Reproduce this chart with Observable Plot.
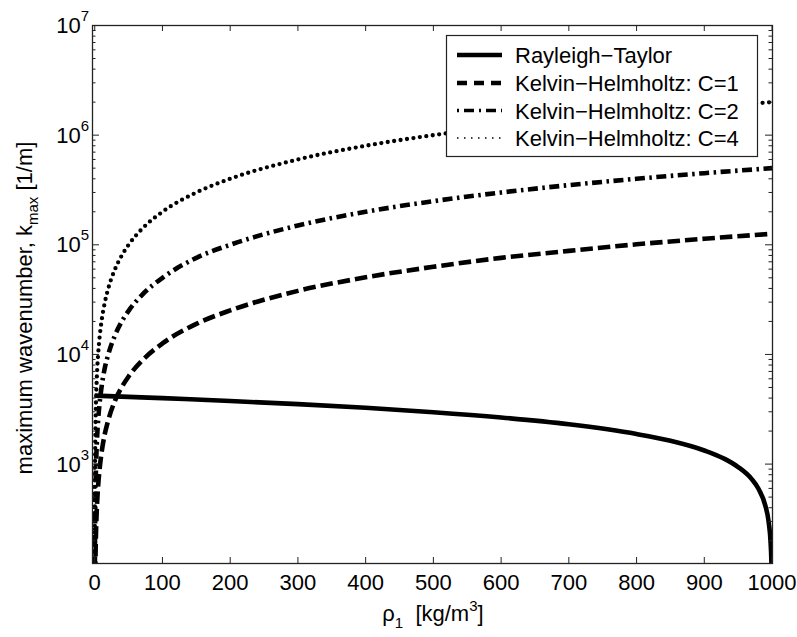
<!DOCTYPE html>
<html>
<head>
<meta charset="utf-8">
<script src="https://cdn.jsdelivr.net/npm/d3@7"></script>
<script src="https://cdn.jsdelivr.net/npm/@observablehq/plot@0.6"></script>
<style>
  body { margin: 0; background: #fff; }
  #chart svg { display: block; }
</style>
</head>
<body>
<div id="chart"></div>
<script>
// Density of the lighter fluid, rho_1 [kg/m^3], for the Kelvin–Helmholtz curves
const rhoKH = [0.06, 0.1, 0.15, 0.25, 0.4, 0.6, 1, 1.5, 2, 3, 4, 5, 7, 10, 15, 20, 30, 40, 50, 70,
               100, 150, 200, 300, 400, 500, 600, 700, 800, 900, 1000];
// Most unstable wavenumber k_max [1/m] for each Kelvin–Helmholtz constant C
const kKH1 = [7.6, 12.6, 19, 31.5, 50, 76, 126, 190, 252, 380, 505, 630, 880, 1260, 1900, 2520, 3800, 5050, 6300, 8800,
              12600, 19000, 25200, 38000, 50500, 63000, 76000, 88000, 101000, 113500, 126000];
const kKH2 = [30, 50, 76, 126, 200, 300, 500, 760, 1000, 1500, 2000, 2500, 3500, 5000, 7600, 10000, 15000, 20000, 25000, 35000,
              50000, 76000, 100000, 150000, 200000, 250000, 300000, 350000, 400000, 450000, 500000];
const kKH4 = [120, 200, 300, 500, 800, 1200, 2000, 3000, 4000, 6000, 8000, 10000, 14000, 20000, 30000, 40000, 60000, 80000, 100000, 140000,
              200000, 300000, 400000, 600000, 800000, 1000000, 1200000, 1400000, 1600000, 1800000, 2000000];

// Rayleigh–Taylor curve
const rhoRT = [0, 50, 100, 150, 200, 300, 400, 500, 600, 700, 800, 850, 900, 930, 950, 970, 980, 990, 995, 998, 999, 999.5];
const kRT   = [4210, 4100, 3995, 3880, 3765, 3520, 3260, 2975, 2660, 2305, 1880, 1630, 1330, 1115, 940, 730, 595, 420, 298, 188, 133, 94];

// Axis ticks
const xTicks = [0, 100, 200, 300, 400, 500, 600, 700, 800, 900, 1000];
const yExponents = [3, 4, 5, 6, 7];
const yMinorMantissas = [2, 3, 4, 5, 6, 7, 8, 9];
const yMinorExponents = [2, 3, 4, 5, 6];

// Legend entries
const seriesNames = ["Rayleigh\u2212Taylor", "Kelvin\u2212Helmholtz: C=1", "Kelvin\u2212Helmholtz: C=2", "Kelvin\u2212Helmholtz: C=4"];

const W = 797, H = 637;
const mL = 92, mR = 25, mT = 25, mB = 74;
const frameW = W - mL - mR, frameH = H - mT - mB;
const ink = "#222";
const font = "'Liberation Sans', Arial, Helvetica, sans-serif";
const fs = 22;

const toRows = (xs, ys) => xs.map((x, i) => ({rho: x, k: ys[i]}));
const yMajor = yExponents.map(e => Math.pow(10, e));
const yMinor = yMinorExponents.flatMap(e => yMinorMantissas.map(m => m * Math.pow(10, e)));

const styles = [
  {data: toRows(rhoRT, kRT),  width: 4.6, dash: null, cap: "butt"},
  {data: toRows(rhoKH, kKH1), width: 4.6, dash: "12.5,5", cap: "butt"},
  {data: toRows(rhoKH, kKH2), width: 4.6, dash: "10,4.5,2.5,4.5", cap: "butt"},
  {data: toRows(rhoKH, kKH4), width: 4.3, dash: "0,6.5", cap: "round"}
];

const chart = Plot.plot({
  width: W, height: H,
  marginLeft: mL, marginRight: mR, marginTop: mT, marginBottom: mB,
  style: {fontFamily: font, fontSize: fs + "px", background: "white", color: "black"},
  x: {domain: [-3.3, 1000.7], axis: null},
  y: {type: "log", domain: [124, 1e7], axis: null},
  marks: [
    // data curves, back to front
    ...styles.slice().reverse().map(s =>
      Plot.line(s.data, {x: "rho", y: "k", stroke: "black", strokeWidth: s.width,
        strokeDasharray: s.dash, strokeLinecap: s.cap, strokeLinejoin: "round",
        curve: "monotone-x", clip: true})
    ),
    // inward ticks on all four sides
    Plot.tickX(xTicks, {x: d => d, insetTop: frameH - 6, stroke: ink, strokeWidth: 1}),
    Plot.tickX(xTicks, {x: d => d, insetBottom: frameH - 6, stroke: ink, strokeWidth: 1}),
    Plot.tickY(yMajor, {y: d => d, insetRight: frameW - 7, stroke: ink, strokeWidth: 1}),
    Plot.tickY(yMajor, {y: d => d, insetLeft: frameW - 7, stroke: ink, strokeWidth: 1}),
    Plot.tickY(yMinor, {y: d => d, insetRight: frameW - 3.5, stroke: ink, strokeWidth: 1}),
    Plot.tickY(yMinor, {y: d => d, insetLeft: frameW - 3.5, stroke: ink, strokeWidth: 1}),
    Plot.frame({stroke: ink, strokeWidth: 1.3}),
    // x tick labels
    Plot.text(xTicks, {x: d => d, frameAnchor: "bottom", dy: 19, text: d => String(d),
      fontSize: fs, fill: "black", lineAnchor: "middle"})
  ]
});

document.getElementById("chart").appendChild(chart);

const svg = d3.select(chart);
const yScale = chart.scale("y");

// y tick labels as powers of ten
const yLab = svg.append("g").attr("font-family", font).attr("fill", "black");
yExponents.forEach(e => {
  const py = yScale.apply(Math.pow(10, e));
  const t = yLab.append("text")
    .attr("x", 89).attr("y", py + 8)
    .attr("text-anchor", "end")
    .attr("font-size", fs);
  t.append("tspan").text("10");
  t.append("tspan").attr("font-size", 15).attr("dy", -12).text(String(e));
});

// x axis title
const xt = svg.append("text")
  .attr("x", 433).attr("y", 621)
  .attr("text-anchor", "middle")
  .attr("font-family", font).attr("font-size", fs)
  .style("white-space", "pre");
xt.append("tspan").text("\u03C1");
xt.append("tspan").attr("font-size", 15).attr("dy", 7).text("1");
xt.append("tspan").attr("dy", -7).text("  [kg/m");
xt.append("tspan").attr("font-size", 15).attr("dy", -10).text("3");
xt.append("tspan").attr("dy", 10).text("]");

// y axis title
const yt = svg.append("text")
  .attr("transform", "translate(32,308) rotate(-90)")
  .attr("text-anchor", "middle")
  .attr("font-family", font).attr("font-size", fs)
  .style("white-space", "pre");
yt.append("tspan").text("maximum wavenumber, k");
yt.append("tspan").attr("font-size", 15).attr("dy", 6).text("max");
yt.append("tspan").attr("dy", -6).text(" [1/m]");

// legend
const lg = svg.append("g").attr("font-family", font);
lg.append("rect")
  .attr("x", 446.5).attr("y", 35.5).attr("width", 311).attr("height", 121)
  .attr("fill", "white").attr("stroke", ink).attr("stroke-width", 1.2);
const rowY = [55, 83, 110.5, 138];
const legendStyles = [
  {width: 4.5, dash: null, cap: "butt"},
  {width: 4.5, dash: "10,7", cap: "butt"},
  {width: 3.5, dash: "2,5,10,5", cap: "butt"},
  {width: 1.5, dash: "1.5,5.5", cap: "butt"}
];
seriesNames.forEach((name, i) => {
  const s = legendStyles[i];
  lg.append("line")
    .attr("x1", 457).attr("x2", 502).attr("y1", rowY[i]).attr("y2", rowY[i])
    .attr("stroke", "black").attr("stroke-width", s.width)
    .attr("stroke-dasharray", s.dash).attr("stroke-linecap", s.cap);
  lg.append("text")
    .attr("x", 515).attr("y", rowY[i] + 8)
    .attr("text-anchor", "start")
    .attr("font-size", fs).attr("fill", "black")
    .text(name);
});
</script>
</body>
</html>
